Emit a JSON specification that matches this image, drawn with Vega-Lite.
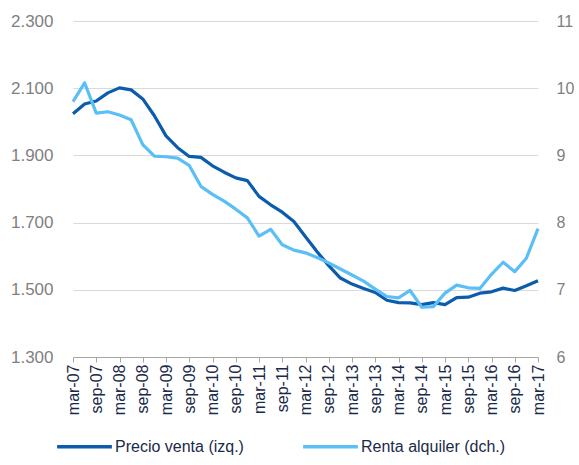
{
  "$schema": "https://vega.github.io/schema/vega-lite/v6.json",
  "width": 465,
  "height": 336,
  "autosize": {"type": "none"},
  "padding": {"left": 73, "top": 21, "right": 41, "bottom": 108},
  "config": {
    "font": "Liberation Sans",
    "view": {"stroke": null},
    "background": "white"
  },
  "data": {
    "values": [
      {"q": "mar-07", "precio": 2024, "renta": 9.80},
      {"q": "jun-07", "precio": 2053, "renta": 10.08},
      {"q": "sep-07", "precio": 2062, "renta": 9.63},
      {"q": "dic-07", "precio": 2086, "renta": 9.65},
      {"q": "mar-08", "precio": 2101, "renta": 9.60},
      {"q": "jun-08", "precio": 2095, "renta": 9.53},
      {"q": "sep-08", "precio": 2068, "renta": 9.16},
      {"q": "dic-08", "precio": 2018, "renta": 8.99},
      {"q": "mar-09", "precio": 1958, "renta": 8.98},
      {"q": "jun-09", "precio": 1923, "renta": 8.96},
      {"q": "sep-09", "precio": 1897, "renta": 8.85},
      {"q": "dic-09", "precio": 1894, "renta": 8.54},
      {"q": "mar-10", "precio": 1869, "renta": 8.42},
      {"q": "jun-10", "precio": 1850, "renta": 8.32},
      {"q": "sep-10", "precio": 1833, "renta": 8.20},
      {"q": "dic-10", "precio": 1825, "renta": 8.07},
      {"q": "mar-11", "precio": 1778, "renta": 7.80},
      {"q": "jun-11", "precio": 1753, "renta": 7.90},
      {"q": "sep-11", "precio": 1731, "renta": 7.67},
      {"q": "dic-11", "precio": 1703, "renta": 7.59},
      {"q": "mar-12", "precio": 1658, "renta": 7.55},
      {"q": "jun-12", "precio": 1613, "renta": 7.48},
      {"q": "sep-12", "precio": 1572, "renta": 7.40},
      {"q": "dic-12", "precio": 1535, "renta": 7.31},
      {"q": "mar-13", "precio": 1517, "renta": 7.22},
      {"q": "jun-13", "precio": 1504, "renta": 7.13},
      {"q": "sep-13", "precio": 1492, "renta": 7.01},
      {"q": "dic-13", "precio": 1469, "renta": 6.90},
      {"q": "mar-14", "precio": 1462, "renta": 6.88},
      {"q": "jun-14", "precio": 1461, "renta": 6.99},
      {"q": "sep-14", "precio": 1456, "renta": 6.74},
      {"q": "dic-14", "precio": 1462, "renta": 6.75},
      {"q": "mar-15", "precio": 1456, "renta": 6.95},
      {"q": "jun-15", "precio": 1477, "renta": 7.07},
      {"q": "sep-15", "precio": 1478, "renta": 7.03},
      {"q": "dic-15", "precio": 1490, "renta": 7.02},
      {"q": "mar-16", "precio": 1494, "renta": 7.23},
      {"q": "jun-16", "precio": 1505, "renta": 7.41},
      {"q": "sep-16", "precio": 1498, "renta": 7.27},
      {"q": "dic-16", "precio": 1512, "renta": 7.47},
      {"q": "mar-17", "precio": 1527, "renta": 7.91}
    ]
  },
  "encoding": {
    "x": {
      "field": "q",
      "type": "ordinal",
      "sort": null,
      "scale": {"type": "point", "padding": 0},
      "axis": {
        "title": null,
        "values": ["mar-07","sep-07","mar-08","sep-08","mar-09","sep-09","mar-10","sep-10","mar-11","sep-11","mar-12","sep-12","mar-13","sep-13","mar-14","sep-14","mar-15","sep-15","mar-16","sep-16","mar-17"],
        "labelAngle": -90,
        "labelAlign": "right",
        "labelBaseline": "middle",
        "labelFontSize": 16,
        "labelColor": "#1a2a4a",
        "labelPadding": 2,
        "domainColor": "#a6a6a6",
        "tickColor": "#a6a6a6",
        "tickSize": 5,
        "grid": false
      }
    }
  },
  "layer": [
    {
      "mark": {"type": "line", "strokeWidth": 3.2, "strokeJoin": "round"},
      "encoding": {
        "y": {
          "field": "precio",
          "type": "quantitative",
          "scale": {"domain": [1300, 2300], "zero": false, "nice": false},
          "axis": {
            "title": null,
            "orient": "left",
            "values": [1300, 1500, 1700, 1900, 2100, 2300],
            "labelExpr": "replace(format(datum.value, ',.0f'), ',', '.')",
            "labelFontSize": 17,
            "labelColor": "#7f7f7f",
            "labelPadding": 20,
            "ticks": false,
            "domain": false,
            "grid": true,
            "gridColor": "#d9d9d9",
            "gridWidth": 1
          }
        },
        "color": {
          "datum": "Precio venta (izq.)",
          "type": "nominal",
          "scale": {
            "domain": ["Precio venta (izq.)", "Renta alquiler (dch.)"],
            "range": ["#0b5cad", "#5bbff7"]
          },
          "legend": {
            "title": null,
            "orient": "none",
            "legendX": -18,
            "legendY": 396,
            "direction": "horizontal",
            "columns": 2,
            "columnPadding": 52,
            "symbolType": "stroke",
            "symbolSize": 3000,
            "symbolStrokeWidth": 3.5,
            "labelFontSize": 16,
            "labelColor": "#1a2a4a",
            "labelOffset": 1,
            "labelLimit": 300
          }
        }
      }
    },
    {
      "mark": {"type": "line", "strokeWidth": 3.2, "strokeJoin": "round"},
      "encoding": {
        "y": {
          "field": "renta",
          "type": "quantitative",
          "scale": {"domain": [6, 11], "zero": false, "nice": false},
          "axis": {
            "title": null,
            "orient": "right",
            "values": [6, 7, 8, 9, 10, 11],
            "labelFontSize": 16,
            "labelColor": "#7f7f7f",
            "labelPadding": 18,
            "ticks": false,
            "domain": false,
            "grid": false
          }
        },
        "color": {"datum": "Renta alquiler (dch.)", "type": "nominal"}
      }
    }
  ],
  "resolve": {"scale": {"y": "independent"}}
}
